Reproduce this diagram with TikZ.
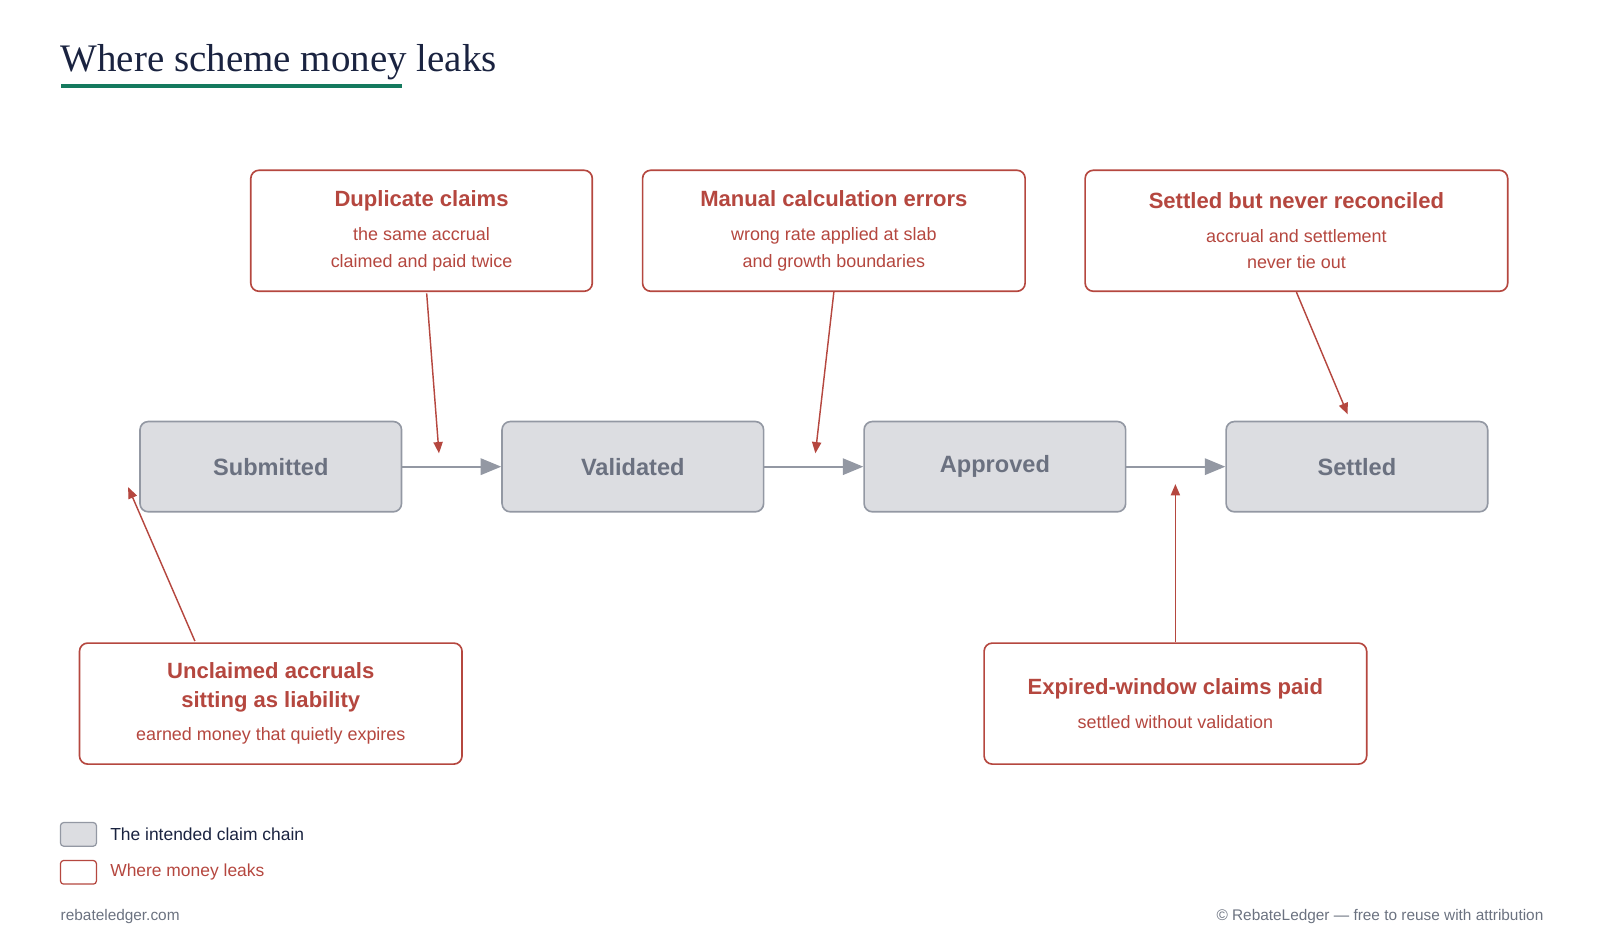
\documentclass[tikz,border=0pt]{standalone}
\usepackage{fontspec}
\setmainfont{Liberation Sans}
\newfontfamily\titlefont{Liberation Serif}
\usetikzlibrary{arrows.meta}
\definecolor{leak}{HTML}{B5473F}
\definecolor{chainfill}{HTML}{DCDDE1}
\definecolor{chainline}{HTML}{9398A3}
\definecolor{chaintext}{HTML}{6B7180}
\definecolor{ink}{HTML}{1A2340}
\definecolor{rule}{HTML}{157A5E}
\definecolor{foot}{HTML}{6B7280}
\tikzset{
  stage/.style={draw=chainline, fill=chainfill, line width=1.6pt, rounded corners=8pt,
    minimum width=255pt, minimum height=88pt, text=chaintext,
    font=\fontsize{23}{26}\selectfont\bfseries},
  leakbox/.style={draw=leak, fill=white, line width=1.6pt, rounded corners=8pt,
    minimum height=118pt, align=center, text=leak,
    font=\fontsize{17.5}{26}\selectfont},
  flow/.style={draw=chainline, line width=2pt, -{Triangle[length=20pt,width=16pt]}},
  leakarrow/.style={draw=leak, line width=1.4pt, -{Triangle[length=11pt,width=9pt]}},
}
\newcommand{\leakhead}[1]{{\fontsize{21.5}{28}\selectfont\bfseries #1}}
\begin{document}
\begin{tikzpicture}[x=1pt,y=-1pt]
  \useasboundingbox (0,0) rectangle (1560,926);

  % title
  \node[anchor=base west, inner sep=0pt, text=ink, font=\titlefont\fontsize{38}{44}\selectfont]
    (title) at (59,70) {Where scheme money leaks};
  \fill[rule] (59,82) rectangle (392,86);

  % the intended chain
  \node[stage] (submitted) at (264,455) {Submitted};
  \node[stage] (validated) at (617,455) {Validated};
  \node[stage] (approved)  at (970,455) {Approved};
  \node[stage] (settled)   at (1323,455) {Settled};
  \draw[flow] (submitted) -- (validated);
  \draw[flow] (validated) -- (approved);
  \draw[flow] (approved) -- (settled);

  % leaks
  \node[leakbox, minimum width=333pt] (duplicate) at (411,225)
    {\leakhead{Duplicate claims}\\[7pt]the same accrual\\claimed and paid twice};
  \node[leakbox, minimum width=373pt] (manual) at (813,225)
    {\leakhead{Manual calculation errors}\\[7pt]wrong rate applied at slab\\and growth boundaries};
  \node[leakbox, minimum width=412pt] (unrec) at (1264,225)
    {\leakhead{Settled but never reconciled}\\[7pt]accrual and settlement\\never tie out};
  \node[leakbox, minimum width=373pt] (unclaimed) at (264,686)
    {\leakhead{Unclaimed accruals}\\[2pt]\leakhead{sitting as liability}\\[6pt]earned money that quietly expires};
  \node[leakbox, minimum width=373pt] (expired) at (1146,686)
    {\leakhead{Expired-window claims paid}\\[7pt]settled without validation};

  \coordinate (dupend) at (428,442);
  \coordinate (manend) at (795,442);
  \coordinate (unrecend) at (1314,404);
  \coordinate (unclend) at (125,475);
  \coordinate (expend) at (1146,472);
  \draw[leakarrow] (416,286) -- (dupend);
  \draw[leakarrow] (manual.south) -- (manend);
  \draw[leakarrow] (unrec.south) -- (unrecend);
  \draw[leakarrow] (190,625) -- (unclend);
  \draw[leakarrow] (expired.north) -- (expend);

  % legend
  \draw[draw=chainline, fill=chainfill, line width=1.2pt, rounded corners=3pt]
    (59,802) rectangle (94,825);
  \node[anchor=west, text=ink, font=\fontsize{17}{20}\selectfont] (legchain) at (104,813)
    {The intended claim chain};
  \draw[draw=leak, fill=white, line width=1.2pt, rounded corners=3pt]
    (59,839) rectangle (94,862);
  \node[anchor=west, text=leak, font=\fontsize{17}{20}\selectfont] (legleak) at (104,850)
    {Where money leaks};

  % footer
  \node[anchor=west, inner sep=0pt, text=foot, font=\fontsize{15}{18}\selectfont] (site) at (59,894)
    {rebateledger.com};
  \node[anchor=east, inner sep=0pt, text=foot, font=\fontsize{15}{18}\selectfont] (credit) at (1505,894)
    {© RebateLedger — free to reuse with attribution};
\end{tikzpicture}
\end{document}
